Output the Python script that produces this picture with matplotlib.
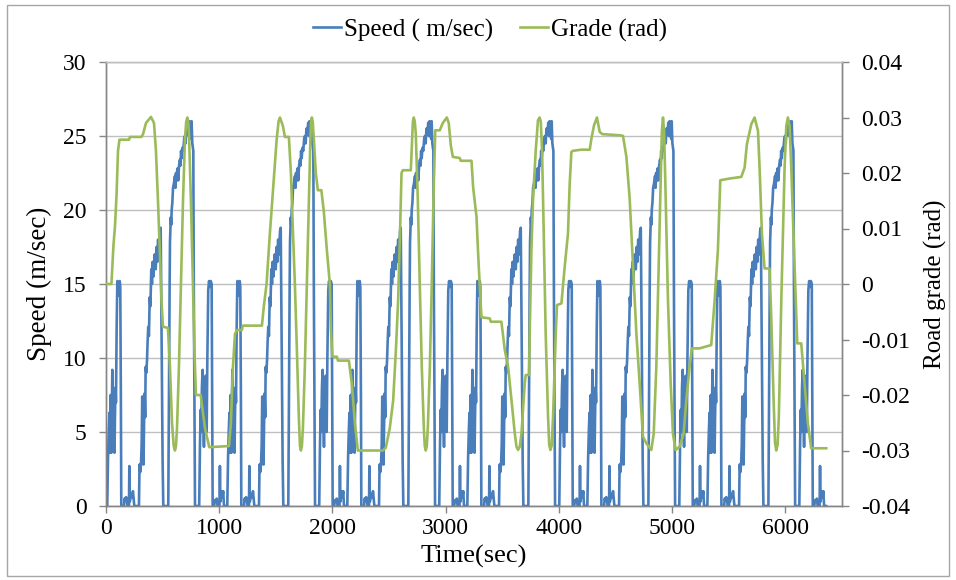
import numpy as np
import matplotlib
matplotlib.use("Agg")
import matplotlib.pyplot as plt
from matplotlib.patches import Rectangle

plt.rcParams['font.family'] = ['Liberation Serif', 'DejaVu Serif']

# ---- data ----
# one drive cycle of speed (m/s), repeated 6 times
cycle_len = 1060
n_cycles = 6
cycle_t = [0, 11, 18, 24, 30, 35, 41, 47, 52, 56, 62, 66, 71, 75, 79, 84, 88, 94, 100, 106, 112, 117, 121, 126, 131, 135,
           160, 163, 170, 178, 186, 190, 203, 206, 210, 222, 230, 238, 244, 250,
           291, 296, 303, 310, 315, 320, 326, 331, 336, 341, 346, 350, 356, 362, 367, 373, 379, 386, 392, 400, 406, 412,
           418, 424, 430, 439, 446, 453, 460, 468, 477, 483, 490, 500, 506,
           550, 556, 562, 565, 572, 576, 580, 586, 592, 600, 609, 614, 618, 624, 630, 638, 645, 653, 658, 663, 668, 675,
           682, 690, 697, 703, 710, 718, 726, 732, 737, 741, 746, 752, 756, 762, 771, 776, 786,
           823, 830, 836, 841, 847, 853, 859, 865, 872, 880, 889, 895, 903, 910, 918, 925, 933, 938, 942,
           955, 962, 970, 978, 985, 1002, 1006, 1010, 1021, 1028, 1035, 1042]
cycle_speed = [0, 0, 3.3, 5.0, 6.3, 3.6, 7.5, 3.6, 6.8, 9.2, 7.0, 4.2, 5.8, 3.6, 6.0, 8.0, 7.0, 12.0, 15.2, 14.2, 14.5, 15.0, 15.2, 14.8, 8.0, 0,
               0, 0.5, 0.4, 0.6, 0.3, 0, 0, 2.7, 0.3, 0.8, 0.6, 1.0, 0.5, 0,
               0, 2.8, 2.3, 3.0, 4.2, 7.4, 5.0, 2.8, 5.5, 7.6, 6.0, 9.4, 9.0, 9.8, 11.0, 12.1, 11.5, 14.1, 13.5, 16.0, 15.0, 16.5,
               15.5, 16.2, 17.0, 16.0, 17.5, 16.5, 18.0, 17.0, 18.6, 18.8, 12.0, 3.0, 0,
               0, 8.0, 15.0, 17.8, 19.5, 19.0, 20.0, 20.5, 21.5, 21.8, 22.3, 21.5, 22.5, 22.0, 22.8, 22.0, 23.0, 23.4, 23.0, 24.0, 23.5, 24.2,
               24.0, 24.8, 25.0, 24.5, 25.5, 25.2, 25.9, 25.0, 26.0, 25.0, 25.8, 24.8, 26.0, 24.5, 24.0, 14.0, 0,
               0, 4.2, 6.5, 5.0, 8.0, 9.2, 6.0, 4.0, 7.0, 8.8, 5.0, 10.0, 14.6, 15.2, 14.8, 15.2, 15.0, 7.0, 0,
               0, 0.4, 0.3, 0.5, 0, 0, 2.7, 0.3, 1.0, 0.6, 1.0, 0]

# road grade (rad) over the whole run
grade_t = [0, 48, 66, 79, 93, 106, 119, 203, 212, 313, 327, 353, 397, 424, 441, 459, 477, 490, 503, 547, 565, 583, 598,
           609, 618, 627, 644, 662, 680, 697, 708, 718, 726, 733, 750, 768, 781, 794, 836, 874, 912, 1086, 1103, 1121,
           1139, 1156, 1200, 1209, 1377, 1394, 1418, 1447, 1474, 1507, 1524, 1536, 1562, 1580, 1615, 1633, 1650, 1668,
           1686, 1703, 1713, 1721, 1730, 1739, 1756, 1774, 1792, 1805, 1811, 1818, 1826, 1836, 1853, 1871, 1902, 1924,
           1951, 1977, 1986, 1999, 2039, 2048, 2145, 2171, 2198, 2224, 2445, 2471, 2506, 2536, 2560, 2580, 2595, 2610,
           2621, 2692, 2701, 2710, 2718, 2727, 2736, 2754, 2771, 2789, 2807, 2815, 2824, 2833, 2842, 2860, 2877, 2895,
           2908, 2948, 2974, 3010, 3027, 3045, 3063, 3124, 3133, 3228, 3242, 3272, 3286, 3301, 3316, 3389, 3398, 3492,
           3522, 3551, 3581, 3610, 3625, 3639, 3654, 3669, 3698, 3707, 3736, 3742, 3757, 3771, 3795, 3815, 3830, 3840,
           3851, 3866, 3883, 3904, 3914, 3925, 3936, 3948, 3972, 3983, 4022, 4051, 4080, 4095, 4110, 4124, 4198, 4272,
           4287, 4310, 4336, 4360, 4384, 4536, 4566, 4596, 4625, 4654, 4684, 4713, 4742, 4772, 4816, 4837, 4860, 4881,
           4898, 4909, 4919, 4929, 4940, 4963, 4987, 5007, 5031, 5066, 5101, 5125, 5154, 5174, 5242, 5345, 5375, 5404,
           5425, 5507, 5611, 5640, 5660, 5699, 5728, 5758, 5772, 5793, 5816, 5860, 5875, 5896, 5908, 5919, 5931, 5942,
           5964, 5993, 6008, 6022, 6037, 6052, 6081, 6105, 6140, 6169, 6198, 6228, 6361]
grade = [0.0, 0.0, 0.007, 0.0103, 0.016, 0.024, 0.026, 0.026, 0.0265, 0.0265, 0.027, 0.029, 0.0301, 0.029, 0.024, 0.015,
         0.005, -0.003, -0.0077, -0.0079, -0.015, -0.025, -0.0292,
         -0.030, -0.0292, -0.026, -0.015, 0.0, 0.015, 0.026, 0.0292, 0.030, 0.0292, 0.027, 0.015, 0.0, -0.012, -0.020,
         -0.020, -0.026, -0.0294, -0.0292, -0.025, -0.015,
         -0.009, -0.0083, -0.0083, -0.0075, -0.0075, -0.004, 0.0, 0.009, 0.0167, 0.026, 0.0293, 0.030, 0.0285, 0.0265,
         0.0265, 0.020, 0.010, 0.0,
         -0.012, -0.024, -0.0292, -0.030, -0.0292, -0.026, -0.015, 0.0, 0.015, 0.026, 0.0292, 0.030, 0.0292, 0.026,
         0.020, 0.0169, 0.0169, 0.013,
         0.006, 0.0, -0.008, -0.0131, -0.0131, -0.0138, -0.0138, -0.018, -0.025, -0.030, -0.030, -0.0295, -0.026,
         -0.021, -0.012, -0.003, 0.008, 0.020,
         0.0205, 0.0205, 0.025, 0.0292, 0.030, 0.0293, 0.027, 0.015, 0.0, -0.015, -0.026, -0.0292, -0.030, -0.0292,
         -0.026, -0.015, 0.0, 0.018,
         0.0277, 0.0277, 0.029, 0.030, 0.029, 0.025, 0.0229, 0.0227, 0.0222, 0.0222, 0.0175, 0.0121, 0.0057, -0.0005,
         -0.006, -0.0062, -0.0068, -0.0068,
         -0.0119, -0.0149, -0.0209, -0.0269, -0.0293, -0.0299, -0.0293, -0.027, -0.0179, -0.0164, -0.0164, -0.0089,
         0.0061, 0.015, 0.024, 0.0295, 0.030, 0.0292,
         0.024, 0.0091, -0.0089, -0.0239, -0.0290, -0.0299, -0.0291, -0.024, -0.009, -0.0038, -0.0035, 0.0031, 0.0091,
         0.018, 0.0238, 0.024, 0.0242, 0.0242,
         0.0262, 0.0286, 0.030, 0.0274, 0.027, 0.0268, 0.0267, 0.0229, 0.0153, 0.0033, -0.0089, -0.0179, -0.0275,
         -0.0287, -0.0299, -0.027, -0.015, 0.0033,
         0.018, 0.0275, 0.030, 0.0275, 0.018, -0.0029, -0.0179, -0.027, -0.0299, -0.0293, -0.027, -0.0209, -0.0149,
         -0.0116, -0.0116, -0.011, -0.003, 0.0061,
         0.0187, 0.019, 0.0193, 0.021, 0.0252, 0.0288, 0.030, 0.0276, 0.021, 0.009, 0.0028, 0.0028, -0.0059, -0.0209,
         -0.0285, -0.030, -0.029, -0.024,
         -0.0029, 0.021, 0.0285, 0.030, 0.0285, 0.021, 0.0033, -0.0107, -0.0107, -0.0179, -0.025, -0.0296, -0.0296]

speed_ticks = [0, 5, 10, 15, 20, 25, 30]
grade_ticks = [-0.04, -0.03, -0.02, -0.01, 0, 0.01, 0.02, 0.03, 0.04]
grade_tick_labels = ["-0.04", "-0.03", "-0.02", "-0.01", "0", "0.01", "0.02", "0.03", "0.04"]
time_ticks = [0, 1000, 2000, 3000, 4000, 5000, 6000]

# build the repeated speed trace
speed_t = np.concatenate([np.array(cycle_t) + k * cycle_len for k in range(n_cycles)] + [np.array([n_cycles * cycle_len])])
speed = np.concatenate([np.array(cycle_speed) for _ in range(n_cycles)] + [np.array([0.0])])

# ---- figure ----
W, H = 956, 580
fig = plt.figure(figsize=(W / 100, H / 100), dpi=100)
fig.patches.append(Rectangle((7 / W, 4 / H), (949 - 7) / W, (575 - 4) / H, transform=fig.transFigure,
                             fill=False, edgecolor='#A6A6A6', linewidth=1.0))

ax = fig.add_axes([106 / W, 74 / H, (842 - 106) / W, (506 - 62) / H])
ax2 = ax.twinx()

blue = '#4A7EBB'
green = '#9BBB59'
axis_col = '#868686'
grid_col = '#BFBFBF'

l1, = ax.plot(speed_t, speed, color=blue, lw=1.9, solid_joinstyle='round', zorder=3)
l2, = ax2.plot(grade_t, grade, color=green, lw=1.9, solid_joinstyle='round', zorder=3)

ax.set_xlim(0, 6500)
ax.set_ylim(0, 30)
ax2.set_ylim(-0.04, 0.04)
ax.set_xticks(time_ticks)
ax.set_yticks(speed_ticks)
ax2.set_yticks(grade_ticks)
ax2.set_yticklabels(grade_tick_labels)

ax.yaxis.grid(True, color=grid_col, lw=1.0)
ax.set_axisbelow(True)

for a in (ax, ax2):
    for s in a.spines.values():
        s.set_color(axis_col)
        s.set_linewidth(1.0)
    a.spines['top'].set_color(grid_col)
    a.tick_params(colors=axis_col, labelcolor='black', labelsize=17, length=5, width=1.0)
ax.tick_params(axis='y', pad=9)
ax2.tick_params(axis='y', pad=9)
ax.tick_params(axis='x', pad=4)

ax.set_xlabel("Time(sec)", fontsize=19, labelpad=4)
ax.set_ylabel("Speed (m/sec)", fontsize=19.5, labelpad=8)
ax2.set_ylabel("Road grade (rad)", fontsize=18, labelpad=10)

fig.legend([l1, l2], ["Speed ( m/sec)", "Grade (rad)"], loc='center', bbox_to_anchor=(490 / W, 1 - 30 / H),
           ncol=2, frameon=False, fontsize=18, handlelength=1.1, handletextpad=0.12, columnspacing=1.1)

fig.savefig("out.png", dpi=100)
